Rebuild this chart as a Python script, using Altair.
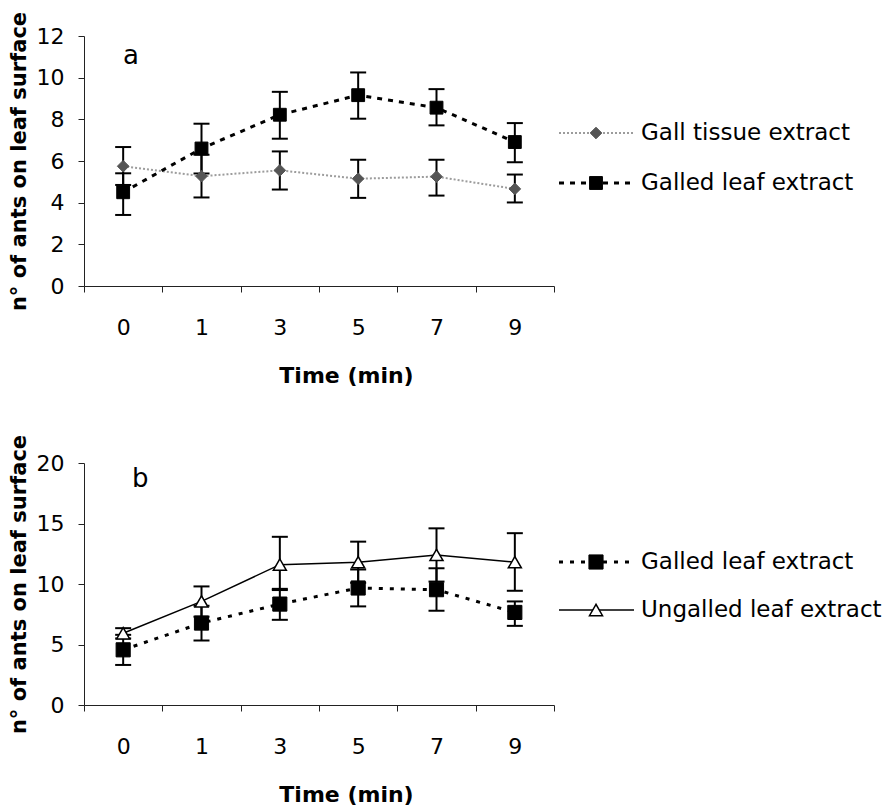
import json
import altair as alt
import pandas as pd

# ---------------- data ----------------
times = ["0", "1", "3", "5", "7", "9"]

# panel a
gall_tissue_mean = [5.75, 5.27, 5.55, 5.15, 5.25, 4.66]
gall_tissue_lo = [4.85, 4.25, 4.63, 4.23, 4.34, 4.01]
gall_tissue_hi = [6.67, 6.30, 6.46, 6.06, 6.06, 5.35]

galled_a_mean = [4.50, 6.60, 8.22, 9.16, 8.56, 6.91]
galled_a_lo = [3.41, 5.40, 7.07, 8.03, 7.71, 5.94]
galled_a_hi = [5.41, 7.79, 9.32, 10.25, 9.45, 7.82]

# panel b
galled_b_mean = [4.56, 6.77, 8.34, 9.67, 9.53, 7.65]
galled_b_lo = [3.31, 5.33, 7.04, 8.15, 7.79, 6.54]
galled_b_hi = [5.80, 8.20, 9.60, 11.20, 11.30, 8.56]

ungalled_mean = [5.93, 8.56, 11.60, 11.80, 12.40, 11.80]
ungalled_lo = [5.50, 7.30, 9.50, 10.10, 10.20, 9.44]
ungalled_hi = [6.35, 9.80, 13.90, 13.50, 14.60, 14.20]

GALL = "Gall tissue extract"
GALLED = "Galled leaf extract"
UNGALLED = "Ungalled leaf extract"

y_title = "n° of ants on leaf surface"
x_title = "Time (min)"
panel_labels = ["a", "b"]

FONT = "DejaVu Sans"


def make_df(name, mean, lo, hi):
    return pd.DataFrame({
        "idx": list(range(len(times))),
        "time": times,
        "mean": mean,
        "lo": lo,
        "hi": hi,
        "series": name,
    })


style_gall = dict(
    line=dict(color="#9c9c9c", strokeWidth=2, strokeDash=[2, 2]),
    point=dict(shape="diamond", size=135, fill="#555555", stroke="#555555", strokeWidth=1),
)
style_galled_a = dict(
    line=dict(color="black", strokeWidth=3, strokeDash=[5, 6]),
    point=dict(shape="square", size=165, fill="black", stroke="black", strokeWidth=1),
)
style_galled_b = dict(
    line=dict(color="black", strokeWidth=3, strokeDash=[4, 7]),
    point=dict(shape="square", size=200, fill="black", stroke="black", strokeWidth=1),
)
style_ungalled = dict(
    line=dict(color="black", strokeWidth=1.5),
    point=dict(shape="triangle-up", size=170, fill="white", stroke="black", strokeWidth=1.5),
)

n = len(times)
tick_vals = sorted([i - 0.5 for i in range(n + 1)] + list(range(n)))
label_expr = "datum.value % 1 === 0 ? " + json.dumps(times) + "[datum.value] : ''"

PLOT_W = 470


def panel(series, ymax, ystep, height, label, label_x, label_y):
    x_axis = alt.Axis(
        values=tick_vals,
        labelExpr=label_expr,
        title=x_title,
        grid=False,
        labelOverlap=False,
        labelFlush=False,
        tickSize=6,
        tickOpacity={"condition": {"test": "datum.value % 1 === 0", "value": 0}, "value": 1},
        labelPadding=25,
        titlePadding=27,
        titleX=262,
        titleAlign="center",
        labelFontSize=22,
        titleFontSize=22,
        titleFontWeight="bold",
    )
    y_axis = alt.Axis(
        values=list(range(0, ymax + 1, ystep)),
        title=y_title,
        grid=False,
        tickSize=6,
        labelPadding=14,
        titlePadding=7,
        labelFontSize=22,
        titleFontSize=21,
        titleFontWeight="bold",
    )
    xs = alt.Scale(domain=[-0.5, n - 0.5], nice=False, zero=False)
    ys = alt.Scale(domain=[0, ymax], nice=False, zero=True)
    X = alt.X("idx:Q", scale=xs, axis=x_axis)

    def Y(field):
        return alt.Y(field, scale=ys, axis=y_axis)

    err_layers, line_layers, point_layers = [], [], []
    for df, st in series:
        base = alt.Chart(df)
        err_layers.append(base.mark_rule(color="black", strokeWidth=2).encode(x=X, y=Y("lo:Q"), y2="hi:Q"))
        err_layers.append(base.mark_tick(color="black", thickness=2, size=16, orient="horizontal", opacity=1).encode(x=X, y=Y("lo:Q")))
        err_layers.append(base.mark_tick(color="black", thickness=2, size=16, orient="horizontal", opacity=1).encode(x=X, y=Y("hi:Q")))
        line_layers.append(base.mark_line(**st["line"]).encode(x=X, y=Y("mean:Q")))
        point_layers.append(base.mark_point(filled=True, opacity=1, **st["point"]).encode(x=X, y=Y("mean:Q")))

    lab = alt.Chart(pd.DataFrame({"label": [label]})).mark_text(
        align="left", baseline="alphabetic", fontSize=26, font=FONT, color="black"
    ).encode(x=alt.value(label_x), y=alt.value(label_y), text="label:N")

    return alt.layer(*err_layers, *line_layers, *point_layers, lab).properties(width=PLOT_W, height=height)


def legend(entries, rng, height):
    names = [name for name, _ in entries]
    ysc = alt.Scale(type="point", domain=names, range=rng, padding=0)
    layers = []
    for name, st in entries:
        b = alt.Chart(pd.DataFrame({"series": [name]}))
        Yl = alt.Y("series:N", scale=ysc, axis=None)
        layers.append(b.mark_rule(**st["line"]).encode(x=alt.value(5), x2=alt.value(80), y=Yl))
        layers.append(b.mark_point(filled=True, opacity=1, **st["point"]).encode(x=alt.value(42), y=Yl))
        layers.append(
            b.mark_text(align="left", baseline="middle", fontSize=23, font=FONT, color="black")
            .encode(x=alt.value(87), y=Yl, text="series:N")
        )
    return alt.layer(*layers).properties(width=330, height=height)


df_gall = make_df(GALL, gall_tissue_mean, gall_tissue_lo, gall_tissue_hi)
df_galled_a = make_df(GALLED, galled_a_mean, galled_a_lo, galled_a_hi)
df_galled_b = make_df(GALLED, galled_b_mean, galled_b_lo, galled_b_hi)
df_ungalled = make_df(UNGALLED, ungalled_mean, ungalled_lo, ungalled_hi)

panel_a = panel([(df_gall, style_gall), (df_galled_a, style_galled_a)], 12, 2, 250, panel_labels[0], 39, 28)
panel_b = panel([(df_galled_b, style_galled_b), (df_ungalled, style_ungalled)], 20, 5, 242, panel_labels[1], 48, 24)

legend_a = legend([(GALL, style_gall), (GALLED, style_galled_a)], [97, 147], 250)
legend_b = legend([(GALLED, style_galled_b), (UNGALLED, style_ungalled)], [99, 147], 242)

chart = alt.concat(
    panel_a, legend_a, panel_b, legend_b,
    columns=2,
    spacing={"row": 177, "column": 0},
    bounds="flush",
).properties(
    padding={"top": 3, "left": 0, "right": 0, "bottom": 0}
).configure_view(
    stroke=None
).configure_axis(
    labelFont=FONT,
    titleFont=FONT,
    labelColor="black",
    titleColor="black",
    domainColor="#222222",
    tickColor="#222222",
    domainWidth=1,
    tickWidth=1,
).configure_text(font=FONT)

chart.save("out.html", embed_options={"renderer": "svg", "actions": False})
